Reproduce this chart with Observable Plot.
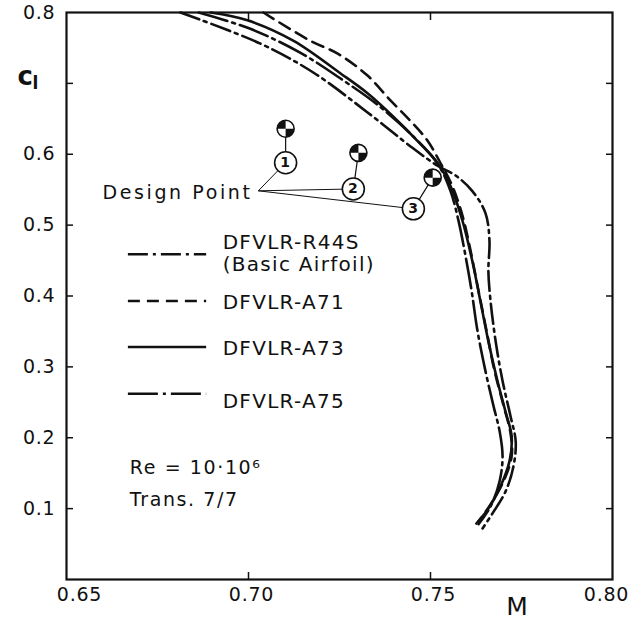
<!DOCTYPE html>
<html><head><meta charset="utf-8">
<script src="https://cdn.jsdelivr.net/npm/d3@7"></script>
<script src="https://cdn.jsdelivr.net/npm/@observablehq/plot@0.6"></script>
<style>
body{margin:0;background:#fff}
#chart{position:relative;width:629px;height:627px}
#chart svg text{letter-spacing:0.8px}
</style>
</head><body><div id="chart"></div>
<script>
// ---- data ----
const seriesNames = ["DFVLR-R44S", "DFVLR-A71", "DFVLR-A73", "DFVLR-A75"];
const machR44S = [0.6813,0.7033,0.7179,0.7327,0.7453,0.7519,0.7569,0.7615,0.7651,0.7662,0.7659,0.7665,0.7679,0.7698,0.7720,0.7734,0.7728,0.7706,0.7670,0.7643];
const clR44S   = [0.800,0.756,0.715,0.659,0.608,0.584,0.570,0.548,0.517,0.478,0.435,0.393,0.336,0.280,0.230,0.195,0.160,0.124,0.093,0.072];
const machA71 = [0.7041,0.7170,0.7245,0.7327,0.7390,0.7445,0.7492,0.7527,0.7560,0.7588,0.7610,0.7632,0.7654,0.7676,0.7701,0.7720,0.7723,0.7701,0.7665,0.7632];
const clA71   = [0.800,0.760,0.742,0.711,0.676,0.647,0.619,0.588,0.555,0.513,0.464,0.407,0.351,0.294,0.245,0.206,0.174,0.139,0.106,0.082];
const machA73 = [0.6896,0.6997,0.7124,0.7253,0.7327,0.7398,0.7464,0.7519,0.7555,0.7588,0.7615,0.7637,0.7659,0.7684,0.7706,0.7723,0.7717,0.7692,0.7659,0.7626];
const clA73   = [0.800,0.789,0.760,0.714,0.686,0.653,0.619,0.588,0.555,0.506,0.449,0.393,0.336,0.280,0.237,0.202,0.167,0.131,0.100,0.079];
const machA75 = [0.6863,0.7005,0.7143,0.7261,0.7354,0.7445,0.7519,0.7555,0.7577,0.7596,0.7613,0.7629,0.7651,0.7673,0.7690,0.7698,0.7690,0.7665,0.7632];
const clA75   = [0.800,0.777,0.743,0.704,0.670,0.629,0.587,0.548,0.506,0.457,0.407,0.351,0.294,0.245,0.209,0.174,0.139,0.103,0.078];

const designNames = ["1", "2", "3"];
const designMach = [0.7102, 0.7302, 0.7506];
const designCl   = [0.636, 0.602, 0.567];
const designTagMach = [0.7102, 0.7288, 0.7453];
const designTagCl   = [0.588, 0.551, 0.523];

const xTicks = [0.65, 0.70, 0.75, 0.80];
const xTickLabels = ["0.65", "0.70", "0.75", "0.80"];
const yTicks = [0.1, 0.2, 0.3, 0.4, 0.5, 0.6, 0.7];
const yLabelTicks = [0.1, 0.2, 0.3, 0.4, 0.5, 0.6, 0.8];
const yTickLabels = ["0.1", "0.2", "0.3", "0.4", "0.5", "0.6", "0.8"];

// ---- build tables ----
const machs = [machR44S, machA71, machA73, machA75];
const cls = [clR44S, clA71, clA73, clA75];
const dashes = ["20,5,3,5", "12,7", null, "30,5,3,5"];
const curves = seriesNames.map((name, i) => machs[i].map((m, j) => ({name, M: m, cl: cls[i][j]})));
const design = designNames.map((n, i) => ({n, M: designMach[i], cl: designCl[i], tM: designTagMach[i], tcl: designTagCl[i]}));
const xt = xTicks.map((v, i) => ({v, t: xTickLabels[i]}));
const yt = yLabelTicks.map((v, i) => ({v, t: yTickLabels[i]}));

const F = "'DejaVu Sans', sans-serif";
const INK = "#111";
const wedges = {draw(ctx, size) {
  const r = Math.sqrt(size / Math.PI);
  ctx.moveTo(0, 0); ctx.arc(0, 0, r, Math.PI, 1.5 * Math.PI); ctx.closePath();
  ctx.moveTo(0, 0); ctx.arc(0, 0, r, 0, 0.5 * Math.PI); ctx.closePath();
}};

// legend geometry (data units)
const LX1 = 0.6670, LX2 = 0.6885, LTX = 0.6929;
const legendRows = [
  {i: 0, ly: 0.459, texts: [["DFVLR-R44S", 0.475], ["(Basic Airfoil)", 0.444]]},
  {i: 1, ly: 0.393, texts: [["DFVLR-A71", 0.390]]},
  {i: 2, ly: 0.328, texts: [["DFVLR-A73", 0.326]]},
  {i: 3, ly: 0.262, texts: [["DFVLR-A75", 0.251]]}
];

const marks = [];
// curves
curves.forEach((c, i) => marks.push(Plot.line(c, {x: "M", y: "cl", stroke: INK, strokeWidth: 2.6, strokeDasharray: dashes[i], curve: "catmull-rom"})));
// legend
legendRows.forEach(r => {
  marks.push(Plot.ruleY([r.ly], {x1: LX1, x2: LX2, stroke: INK, strokeWidth: 2.4, strokeDasharray: dashes[r.i]}));
  r.texts.forEach(([t, y]) => marks.push(Plot.text([t], {x: LTX, y, text: d => d, textAnchor: "start", fontSize: 20, fill: INK})));
});
// Re / Trans text
marks.push(Plot.text(["Re = 10·10⁶"], {x: 0.6674, y: 0.157, text: d => d, textAnchor: "start", fontSize: 19, fill: INK}));
marks.push(Plot.text(["Trans. 7/7"], {x: 0.6674, y: 0.113, text: d => d, textAnchor: "start", fontSize: 19, fill: INK}));
// design point
marks.push(Plot.link(design, {x1: 0.7027, y1: 0.5484, x2: "tM", y2: "tcl", stroke: INK, strokeWidth: 1}));
marks.push(Plot.link(design, {x1: "M", y1: "cl", x2: "tM", y2: "tcl", stroke: INK, strokeWidth: 1.2}));
marks.push(Plot.dot(design, {x: "tM", y: "tcl", r: 11, fill: "white", stroke: INK, strokeWidth: 1.6}));
marks.push(Plot.text(design, {x: "tM", y: "tcl", text: "n", fontSize: 14, fontWeight: "bold", fill: INK}));
marks.push(Plot.dot(design, {x: "M", y: "cl", r: 8.5, fill: "white", stroke: INK, strokeWidth: 1.6}));
marks.push(Plot.dot(design, {x: "M", y: "cl", r: 8.5, symbol: wedges, fill: INK, stroke: "none"}));
marks.push(Plot.text(["Design Point"], {x: 0.7011, y: 0.5456, text: d => d, textAnchor: "end", fontSize: 19, fill: INK}));
// axes: inward ticks on all four sides
marks.push(Plot.axisY({ticks: yTicks, anchor: "left", tickSize: 7, dx: 7, tickFormat: () => "", stroke: INK, strokeWidth: 1.5}));
marks.push(Plot.axisY({ticks: yTicks, anchor: "right", tickSize: 7, dx: -7, tickFormat: () => "", stroke: INK, strokeWidth: 1.5}));
marks.push(Plot.axisX({ticks: [0.70, 0.75], anchor: "top", tickSize: 7, dy: 7, tickFormat: () => "", stroke: INK, strokeWidth: 1.5}));
marks.push(Plot.axisX({ticks: [0.70, 0.75], anchor: "bottom", tickSize: 7, dy: -7, tickFormat: () => "", stroke: INK, strokeWidth: 1.5}));
marks.push(Plot.frame({stroke: INK, strokeWidth: 2.2}));
// tick labels
marks.push(Plot.text(yt, {frameAnchor: "left", y: "v", text: "t", textAnchor: "end", dx: -11, fontSize: 19, fill: INK}));
marks.push(Plot.text(xt.filter(d => d.v === 0.65), {frameAnchor: "bottom", x: "v", text: "t", dx: 13, dy: 21, fontSize: 19, fill: INK}));
marks.push(Plot.text(xt.filter(d => d.v === 0.70 || d.v === 0.75), {frameAnchor: "bottom", x: "v", text: "t", dx: 3, dy: 21, fontSize: 19, fill: INK}));
marks.push(Plot.text(xt.filter(d => d.v === 0.80), {frameAnchor: "bottom", x: "v", text: "t", dx: -6, dy: 21, fontSize: 19, fill: INK}));
// axis titles
marks.push(Plot.text(["M"], {frameAnchor: "bottom", x: 0.7739, text: d => d, dy: 35, fontSize: 25, fill: INK}));
marks.push(Plot.text(["c"], {frameAnchor: "left", y: 0.7, text: d => d, dx: -49, dy: -7, fontSize: 26, fontWeight: "bold", fill: INK}));
marks.push(Plot.text(["l"], {frameAnchor: "left", y: 0.7, text: d => d, dx: -34, dy: 0, fontSize: 17, fontWeight: "bold", textAnchor: "start", fill: INK}));

const chart = Plot.plot({
  width: 629, height: 627,
  marginLeft: 66, marginRight: 17, marginTop: 12, marginBottom: 48,
  x: {domain: [0.65, 0.80]},
  y: {domain: [0, 0.8]},
  style: {fontFamily: F, fontSize: "19px", color: INK, background: "white", overflow: "visible"},
  marks
});
document.getElementById("chart").appendChild(chart);
// wider letter spacing for the annotation texts, as in the reference lettering
chart.querySelectorAll("text").forEach(t => {
  const s = t.textContent;
  if (s === "Design Point") t.style.letterSpacing = "2.6px";
  else if (s === "Re = 10·10⁶" || s === "Trans. 7/7") t.style.letterSpacing = "1.6px";
  else if (s.startsWith("DFVLR") || s.startsWith("(Basic")) t.style.letterSpacing = "1.3px";
});
</script>
</body></html>
